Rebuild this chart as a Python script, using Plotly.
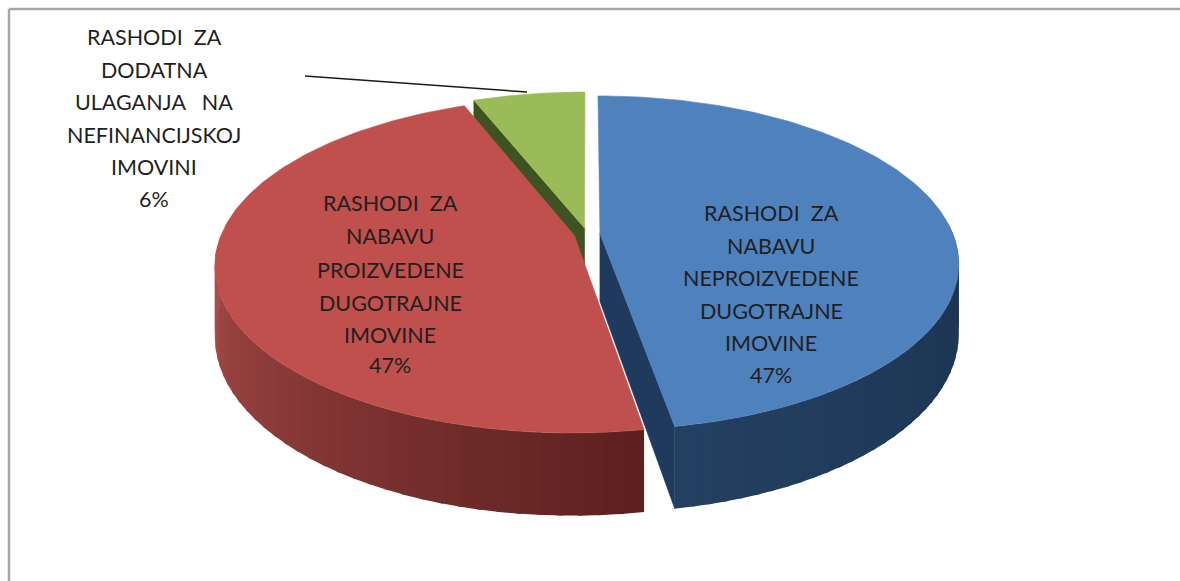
import numpy as np
import plotly.graph_objects as go

# --- data ---
categories = ["RASHODI ZA NABAVU NEPROIZVEDENE DUGOTRAJNE IMOVINE",
              "RASHODI ZA NABAVU PROIZVEDENE DUGOTRAJNE IMOVINE",
              "RASHODI ZA DODATNA ULAGANJA NA NEFINANCIJSKOJ IMOVINI"]
values = [47.3, 46.7, 6.0]
percent_labels = ["47%", "47%", "6%"]
blue_lines = ["RASHODI\u00a0\u00a0ZA", "NABAVU", "NEPROIZVEDENE", "DUGOTRAJNE", "IMOVINE"]
red_lines = ["RASHODI\u00a0\u00a0ZA", "NABAVU", "PROIZVEDENE", "DUGOTRAJNE", "IMOVINE"]
green_lines = ["RASHODI\u00a0\u00a0ZA", "DODATNA", "ULAGANJA\u00a0\u00a0\u00a0NA", "NEFINANCIJSKOJ", "IMOVINI"]

# --- projection of the tilted, exploded pie onto the pixel-sized axes ---
CX, CY, R, RY, K, DEPTH, EXPLODE = 587, 234, 353, 162, 0.176, 68, 13


def project(theta, mid, radius=1.0, drop=0.0):
    """theta / mid: clockwise radians from 12 o'clock."""
    X = EXPLODE * np.sin(mid) + R * radius * np.sin(theta)
    Y = (EXPLODE * -np.cos(mid) + R * radius * -np.cos(theta)) / R
    w = 1 / (1 - K * Y)
    return CX + X * w, CY + RY * Y * w + drop * w


fracs = np.array(values) / sum(values)
edges = np.concatenate([[0], np.cumsum(fracs)]) * 2 * np.pi
spans = [(edges[i], edges[i + 1], (edges[i] + edges[i + 1]) / 2) for i in range(3)]

fig = go.Figure()


def poly(xs, ys, color, width=0.6):
    fig.add_trace(go.Scatter(x=list(xs), y=list(ys), mode="lines", fill="toself",
                             fillcolor=color, line=dict(color=color, width=width),
                             hoverinfo="skip", showlegend=False))


def top(span, color):
    a, b, m = span
    th = np.linspace(a, b, 160)
    x, y = project(th, m)
    ax, ay = project(np.array([a]), m, radius=0.0)
    poly(np.r_[ax, x, ax], np.r_[ay, y, ay], color)


def face(theta, m, color):
    t = np.array([theta])
    x0, y0 = project(t, m, radius=0.0)
    x1, y1 = project(t, m)
    x2, y2 = project(t, m, drop=DEPTH)
    x3, y3 = project(t, m, radius=0.0, drop=DEPTH)
    poly(np.r_[x0, x1, x2, x3, x0], np.r_[y0, y1, y2, y3, y0], color)


def wall(t0, t1, m, stops, n=36):
    th = np.linspace(t0, t1, n + 1)
    c0, c1 = np.array(stops[0]), np.array(stops[1])
    for i in range(n):
        tt = np.linspace(th[i], th[i + 1] + 0.012, 5)
        xa, ya = project(tt, m)
        xb, yb = project(tt[::-1], m, drop=DEPTH)
        mix = c0 + (c1 - c0) * (i + 0.5) / n
        poly(np.r_[xa, xb], np.r_[ya, yb], "rgb(%d,%d,%d)" % tuple(mix), width=0)


blue, red, green = spans

# green slice (rear)
face(green[0], green[2], "#3f5322")
top(green, "#9bbb59")

# blue slice walls
face(blue[1], blue[2], "#1f3a5c")
wall(blue[0] + np.pi / 2 - 0.05, blue[1] - 0.012, blue[2], [(26, 50, 80), (36, 64, 98)])
# red slice walls: from the front corner to the left extreme
wall(red[0], red[0] + np.pi / 2 + 0.15, red[2], [(92, 32, 31), (172, 78, 76)])

top(red, "#c0504d")
top(blue, "#4f81bd")

# leader line and frame
layout_shapes = [
    dict(type="line", x0=305, y0=76, x1=527, y1=92, line=dict(color="#1a1a1a", width=1.5)),
    dict(type="line", x0=9, y0=9, x1=1180, y1=9, line=dict(color="#a6a6a6", width=2.5)),
    dict(type="line", x0=9, y0=9, x1=9, y1=581, line=dict(color="#a6a6a6", width=2.5)),
]


def label(lines, pct, xc, ys):
    for txt, y in zip(list(lines) + [pct], ys):
        fig.add_annotation(x=xc, y=y, text=txt, showarrow=False, xanchor="center",
                           yanchor="middle", font=dict(family="Lato", size=21.5, color="#1f1f1f"))


label(blue_lines, percent_labels[0], 771, [213, 246, 278, 311, 343, 375])
label(red_lines, percent_labels[1], 390, [203, 236, 270, 303, 335, 365])
label(green_lines, percent_labels[2], 154, [37, 70, 102, 135, 167, 199])

fig.update_layout(
    width=1180, height=581, margin=dict(l=0, r=0, t=0, b=0),
    paper_bgcolor="white", plot_bgcolor="white", showlegend=False, shapes=layout_shapes,
    xaxis=dict(range=[0, 1180], visible=False, fixedrange=True),
    yaxis=dict(range=[581, 0], visible=False, fixedrange=True),
)
fig.write_html("out.html", config={"displayModeBar": False},
               post_script="document.body.style.margin='0';document.documentElement.style.overflow='hidden';")
